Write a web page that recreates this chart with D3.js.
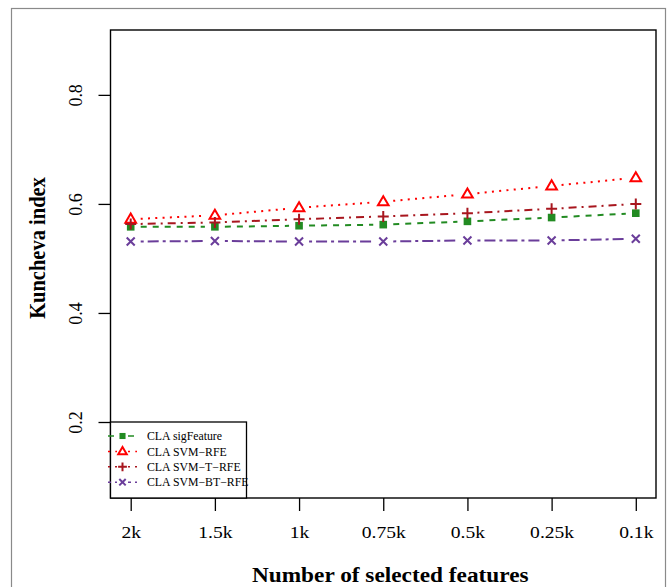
<!DOCTYPE html>
<html>
<head>
<meta charset="utf-8">
<script src="https://cdn.jsdelivr.net/npm/d3@7"></script>
<style>
  html, body { margin: 0; padding: 0; background: #fff; }
  svg { display: block; }
  text { font-family: "Liberation Serif", "Times New Roman", serif; }
</style>
</head>
<body>
<script>
// ---- data ----
const categories = ["2k", "1.5k", "1k", "0.75k", "0.5k", "0.25k", "0.1k"];
const sigFeature = [0.558, 0.558, 0.560, 0.562, 0.568, 0.575, 0.583];
const svmRFE     = [0.572, 0.579, 0.593, 0.604, 0.618, 0.633, 0.648];
const svmTRFE    = [0.563, 0.566, 0.572, 0.577, 0.583, 0.591, 0.600];
const svmBTRFE   = [0.531, 0.532, 0.531, 0.531, 0.533, 0.533, 0.536];
const yTicks = [0.2, 0.4, 0.6, 0.8];
const seriesNames = ["CLA sigFeature", "CLA SVM\u2212RFE", "CLA SVM\u2212T\u2212RFE", "CLA SVM\u2212BT\u2212RFE"];

const series = [
  { name: seriesNames[0], values: sigFeature, color: "#228B22", dash: "6,6",       marker: "square" },
  { name: seriesNames[1], values: svmRFE,     color: "#FF0000", dash: "2,5.3",     marker: "triangle" },
  { name: seriesNames[2], values: svmTRFE,    color: "#A8161E", dash: "2,5,8,5",   marker: "plus" },
  { name: seriesNames[3], values: svmBTRFE,   color: "#6A3D9A", dash: "3,4,11,4",  marker: "cross" }
];

const W = 668, H = 587;
const plot = { left: 110.5, right: 656, top: 30, bottom: 498 };

const svg = d3.select("body").append("svg").attr("width", W).attr("height", H);
svg.append("rect").attr("width", W).attr("height", H).attr("fill", "#fff");

// outer frame
svg.append("rect").attr("x", 11.5).attr("y", 8.5).attr("width", 654).attr("height", 600)
  .attr("fill", "none").attr("stroke", "#8a8a8a").attr("stroke-width", 1.2);

const x = d3.scaleLinear().domain([0.76, 7.24]).range([plot.left, plot.right]);
const y = d3.scaleLinear().domain([0.0606, 0.919]).range([plot.bottom, plot.top]);

// axes
const xAxis = d3.axisBottom(x).tickValues(d3.range(1, 8)).tickFormat(d => categories[d - 1]).tickSize(13).tickPadding(0);
const gx = svg.append("g").attr("transform", `translate(0,${plot.bottom})`).call(xAxis);
gx.select(".domain").remove();
gx.selectAll(".tick line").attr("stroke", "#000").attr("stroke-width", 1.3);
gx.selectAll(".tick text").attr("font-size", 17.5).attr("fill", "#000")
  .attr("font-family", "Liberation Serif, serif")
  .attr("y", null).attr("dy", null)
  .attr("transform", "translate(0,40) scale(1.12,1)");

const yAxis = d3.axisLeft(y).tickValues(yTicks).tickFormat(d3.format(".1f")).tickSize(12).tickPadding(0);
const gy = svg.append("g").attr("transform", `translate(${plot.left},0)`).call(yAxis);
gy.select(".domain").remove();
gy.selectAll(".tick line").attr("stroke", "#000").attr("stroke-width", 1.3);
gy.selectAll(".tick text").attr("font-size", 18).attr("fill", "#000")
  .attr("font-family", "Liberation Serif, serif")
  .attr("x", null).attr("dy", null)
  .attr("text-anchor", "middle")
  .attr("transform", "translate(-29,0) scale(1.1,1) rotate(-90)");

// plot box
svg.append("rect").attr("x", plot.left).attr("y", plot.top)
  .attr("width", plot.right - plot.left).attr("height", plot.bottom - plot.top)
  .attr("fill", "none").attr("stroke", "#000").attr("stroke-width", 1.4);

// titles
svg.append("text").attr("transform", `translate(${(plot.left + plot.right) / 2 + 7},582) scale(1.12,1)`)
  .attr("text-anchor", "middle").attr("font-size", 20.8).attr("font-weight", "bold")
  .text("Number of selected features");
svg.append("text").attr("transform", `translate(45,${(plot.top + plot.bottom) / 2 - 16}) scale(1.12,1) rotate(-90)`)
  .attr("text-anchor", "middle").attr("font-size", 20.5).attr("font-weight", "bold")
  .text("Kuncheva index");

// marker drawing
function drawMarker(g, type, cx, cy, color, s) {
  s = s || 1;
  if (type === "square") {
    g.append("rect").attr("x", cx - 3.8 * s).attr("y", cy - 3.8 * s)
      .attr("width", 7.6 * s).attr("height", 7.6 * s).attr("fill", color);
  } else if (type === "triangle") {
    const r = 5.6 * s;
    const pts = [[cx, cy - r], [cx - r * 0.95, cy + r * 0.62], [cx + r * 0.95, cy + r * 0.62]];
    g.append("polygon").attr("points", pts.map(p => p.join(",")).join(" "))
      .attr("fill", "none").attr("stroke", color).attr("stroke-width", 2);
  } else if (type === "plus") {
    const r = 5.5 * s;
    g.append("path").attr("d", `M${cx - r},${cy}H${cx + r}M${cx},${cy - r}V${cy + r}`)
      .attr("stroke", color).attr("stroke-width", 2).attr("fill", "none");
  } else if (type === "cross") {
    const r = 4 * s;
    g.append("path").attr("d", `M${cx - r},${cy - r}L${cx + r},${cy + r}M${cx - r},${cy + r}L${cx + r},${cy - r}`)
      .attr("stroke", color).attr("stroke-width", 2).attr("fill", "none");
  }
}

// series: R type="b" lines with gaps around points
const gap = 10;
series.forEach(s => {
  const g = svg.append("g");
  const pts = s.values.map((v, i) => [x(i + 1), y(v)]);
  for (let i = 0; i < pts.length - 1; i++) {
    const [x0, y0] = pts[i], [x1, y1] = pts[i + 1];
    const dx = x1 - x0, dy = y1 - y0, len = Math.hypot(dx, dy);
    const ux = dx / len, uy = dy / len;
    g.append("line")
      .attr("x1", x0 + ux * gap).attr("y1", y0 + uy * gap)
      .attr("x2", x1 - ux * gap).attr("y2", y1 - uy * gap)
      .attr("stroke", s.color).attr("stroke-width", 2)
      .attr("stroke-dasharray", s.dash);
  }
  pts.forEach(p => drawMarker(g, s.marker, p[0], p[1], s.color));
});

// legend
const lg = svg.append("g");
const lgBox = { x: plot.left, y: 422, w: 136, h: plot.bottom - 422 };
lg.append("rect").attr("x", lgBox.x).attr("y", lgBox.y).attr("width", lgBox.w).attr("height", lgBox.h)
  .attr("fill", "#fff").attr("stroke", "#000").attr("stroke-width", 1.3);
series.forEach((s, i) => {
  const ry = 436 + i * 15.4;
  lg.append("line").attr("x1", 108).attr("x2", 117).attr("y1", ry).attr("y2", ry)
    .attr("stroke", s.color).attr("stroke-width", 1.5).attr("stroke-dasharray", s.dash);
  lg.append("line").attr("x1", 128).attr("x2", 137).attr("y1", ry).attr("y2", ry)
    .attr("stroke", s.color).attr("stroke-width", 1.5).attr("stroke-dasharray", s.dash);
  drawMarker(lg, s.marker, 122.5, ry, s.color, 0.8);
  lg.append("text").attr("x", 147).attr("y", ry).attr("dy", "0.35em")
    .attr("font-size", 11.8).attr("fill", "#000").text(s.name);
});
</script>
</body>
</html>
